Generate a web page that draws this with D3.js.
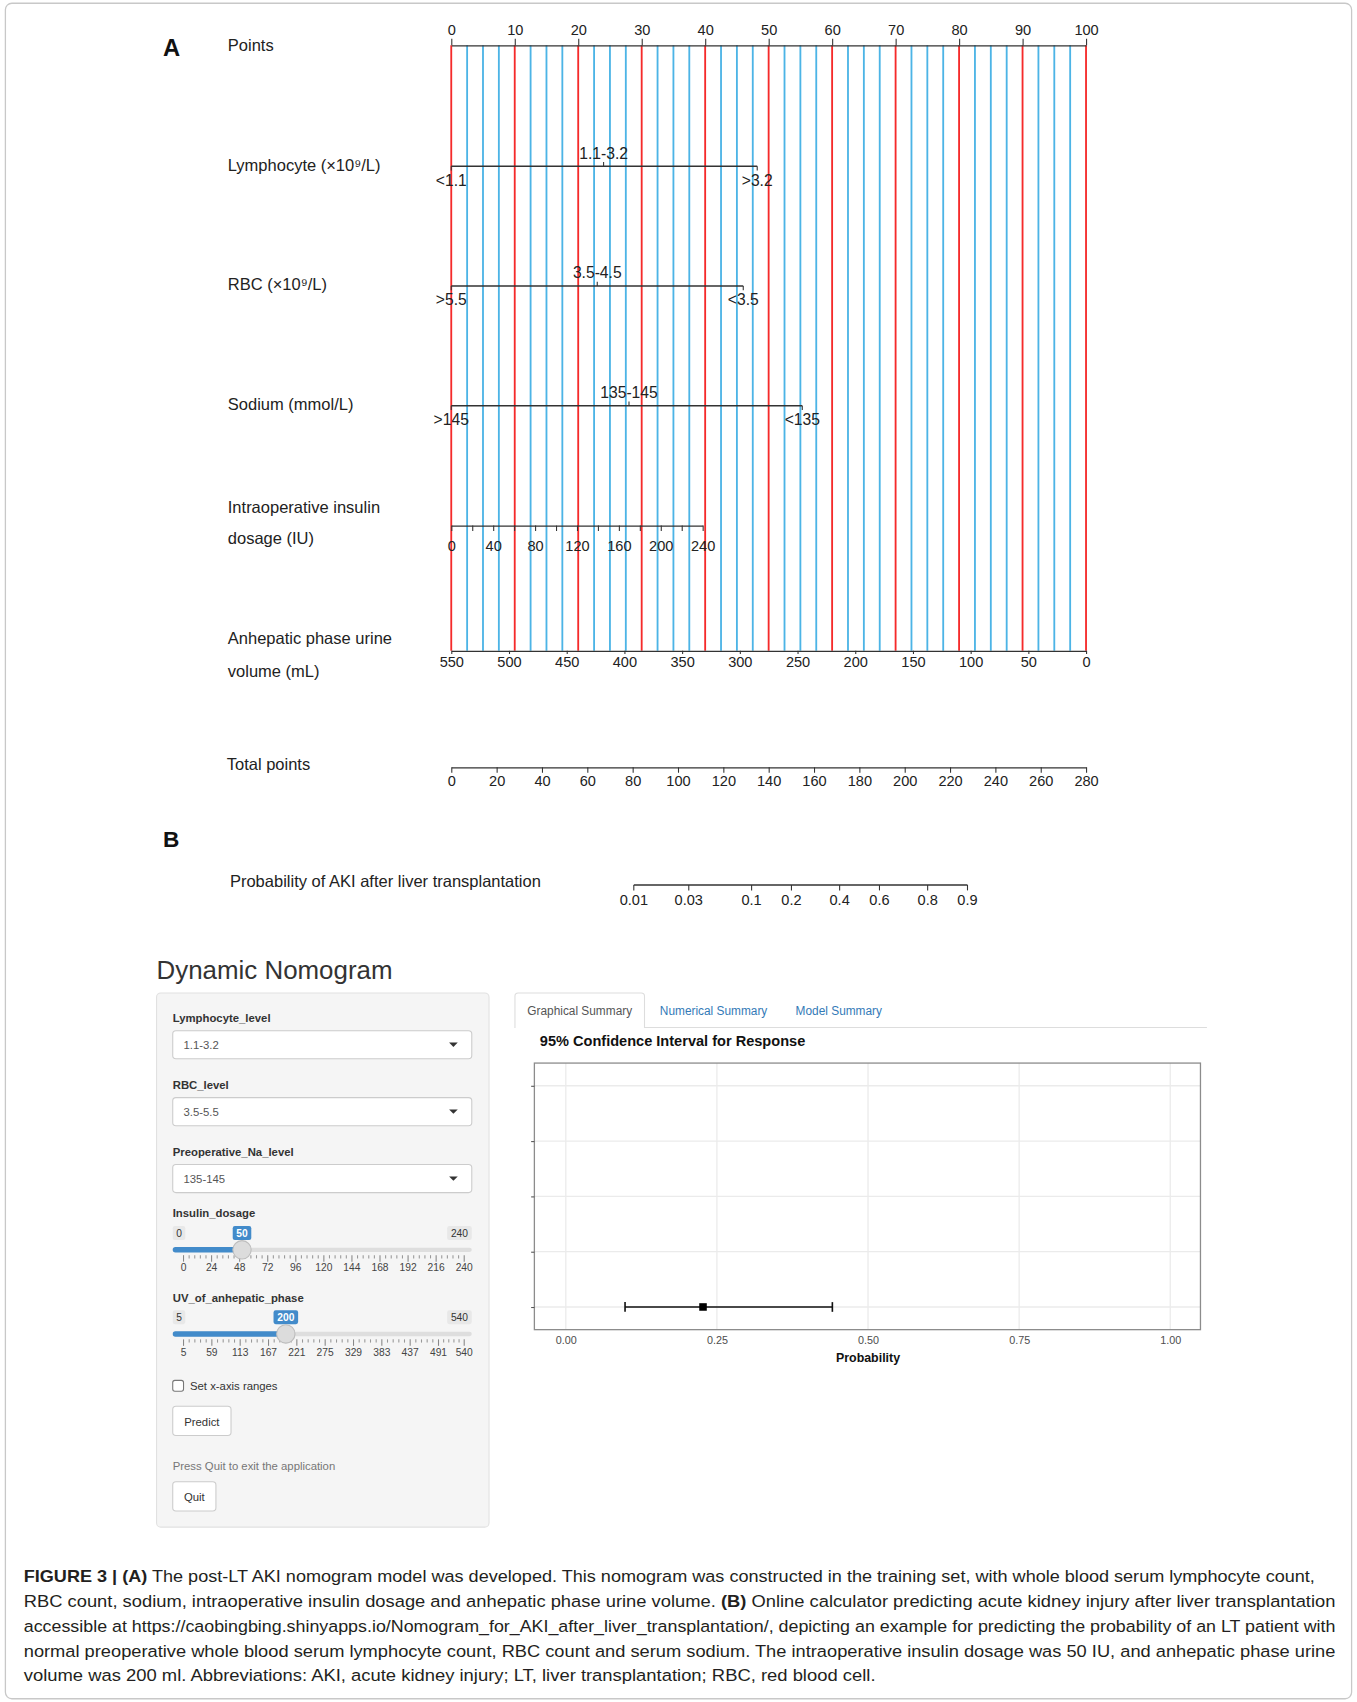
<!DOCTYPE html>
<html>
<head>
<meta charset="utf-8">
<script src="https://cdn.jsdelivr.net/npm/d3@7"></script>
<style>
body { margin: 0; background: #fff; }
svg { display: block; font-family: "Liberation Sans", Arial, sans-serif; }
</style>
</head>
<body>
<div id="chart"></div>
<script>
'use strict';

// ---- data ----
var pointTicks = d3.range(0, 101, 10);
var pointGrid = d3.range(0, 100.01, 2.5);
var lymphLabels = ['<1.1', '1.1-3.2', '>3.2'];
var lymphPoints = [0, 24, 48.2];
var rbcLabels = ['>5.5', '3.5-4.5', '<3.5'];
var rbcPoints = [0, 23, 46];
var sodiumLabels = ['>145', '135-145', '<135'];
var sodiumPoints = [0, 28, 55.3];
var insulinTicks = d3.range(0, 241, 20);
var insulinMaxPoints = 39.6;
var urineTicks = [550, 500, 450, 400, 350, 300, 250, 200, 150, 100, 50, 0];
var totalTicks = d3.range(0, 281, 20);
var probTicks = [0.01, 0.03, 0.1, 0.2, 0.4, 0.6, 0.8, 0.9];
var lpIntercept = 180.1;   // total points where logit = 0
var lpSlope = 21.67;       // total points per logit unit

var selectNames = ['Lymphocyte_level', 'RBC_level', 'Preoperative_Na_level'];
var selectValues = ['1.1-3.2', '3.5-5.5', '135-145'];
var insulinSliderTicks = [0, 24, 48, 72, 96, 120, 144, 168, 192, 216, 240];
var insulinValue = 50;
var uvSliderTicks = [5, 59, 113, 167, 221, 275, 329, 383, 437, 491, 540];
var uvValue = 200;
var tabNames = ['Graphical Summary', 'Numerical Summary', 'Model Summary'];
var ciTicks = [0, 0.25, 0.5, 0.75, 1];
var ciRows = [1, 2, 3, 4, 5];
var ciEstimate = 0.227;
var ciLower = 0.098;
var ciUpper = 0.441;

var W = 1257, H = 1577;
var font = '"Liberation Sans", Arial, sans-serif';
var red = '#f52a2a';
var blue = '#4cb4e6';
var ink = '#222';

var svg = d3.select('#chart').append('svg')
  .attr('width', 1357).attr('height', 1702)
  .attr('viewBox', '0 0 ' + W + ' ' + H)
  .attr('preserveAspectRatio', 'none');

// frame round the figure
svg.append('rect').attr('x', 5).attr('y', 3).attr('width', 1247).attr('height', 1571)
  .attr('rx', 6).attr('fill', 'none').attr('stroke', '#c8c8c8').attr('stroke-width', 1.2);

// ---- nomogram (A) ----
var xPts = d3.scaleLinear().domain([0, 100]).range([418, 1006]);
var xTot = d3.scaleLinear().domain([0, 280]).range([418, 1006]);
var xIns = d3.scaleLinear().domain([0, 240]).range([xPts(0), xPts(insulinMaxPoints)]);
var xUrine = d3.scaleLinear().domain([550, 0]).range([xPts(0), xPts(100)]);
var logit = function (p) { return Math.log(p / (1 - p)); };
var xProb = function (p) { return xTot(lpIntercept + lpSlope * logit(p)); };

var yPoints = 42, yLymph = 154, yRbc = 265, ySodium = 376, yInsulin = 487, yUrine = 603, yTotal = 711, yProb = 820;

svg.append('text').attr('x', 151).attr('y', 52).attr('font-size', 22).attr('font-weight', 'bold').attr('fill', '#111').text('A');
svg.append('text').attr('x', 151).attr('y', 785).attr('font-size', 21).attr('font-weight', 'bold').attr('fill', '#111').text('B');

// vertical reference lines
svg.append('g').selectAll('line').data(pointGrid).join('line')
  .attr('x1', function (d) { return xPts(d); }).attr('x2', function (d) { return xPts(d); })
  .attr('y1', yPoints).attr('y2', yUrine)
  .attr('stroke', function (d) { return d % 10 === 0 ? red : blue; })
  .attr('stroke-width', 1.7);

function styleAxis(g, fs) {
  g.attr('font-family', font).attr('font-size', fs);
  g.select('.domain').attr('stroke', '#333').attr('stroke-width', 1.3);
  g.selectAll('.tick line').attr('stroke', '#333').attr('stroke-width', 1);
  g.selectAll('.tick text').attr('fill', ink);
}

// Points axis
var gPts = svg.append('g').attr('transform', 'translate(0,' + yPoints + ')');
gPts.call(d3.axisTop(xPts).tickValues(pointGrid).tickSize(3).tickSizeOuter(0).tickFormat(''));
gPts.call(d3.axisTop(xPts).tickValues(pointTicks).tickSize(6).tickSizeOuter(0).tickPadding(4));
styleAxis(gPts, 13.5);

// categorical axes
function catAxis(y, labels, pts) {
  var g = svg.append('g');
  g.append('line').attr('x1', xPts(0)).attr('x2', xPts(d3.max(pts)))
    .attr('y1', y).attr('y2', y).attr('stroke', '#333').attr('stroke-width', 1.3);
  labels.forEach(function (lab, i) {
    var x = xPts(pts[i]);
    var up = i === 1;
    g.append('line').attr('x1', x).attr('x2', x).attr('y1', y).attr('y2', up ? y - 4 : y + 4)
      .attr('stroke', '#333').attr('stroke-width', 1);
    g.append('text').attr('x', x).attr('y', up ? y - 7 : y + 18)
      .attr('text-anchor', 'middle').attr('font-size', 14.5).attr('fill', ink).text(lab);
  });
}
catAxis(yLymph, lymphLabels, lymphPoints);
catAxis(yRbc, rbcLabels, rbcPoints);
catAxis(ySodium, sodiumLabels, sodiumPoints);

// Insulin axis
var gIns = svg.append('g').attr('transform', 'translate(0,' + yInsulin + ')');
gIns.call(d3.axisBottom(xIns).tickValues(insulinTicks).tickSize(5).tickSizeOuter(0).tickPadding(9)
  .tickFormat(function (d) { return d % 40 === 0 ? d : ''; }));
styleAxis(gIns, 13.5);

// Urine axis
var gUr = svg.append('g').attr('transform', 'translate(0,' + yUrine + ')');
gUr.call(d3.axisBottom(xUrine).tickValues(urineTicks).tickSize(3).tickSizeOuter(0).tickPadding(2));
styleAxis(gUr, 13.5);

// Total points axis
var gTot = svg.append('g').attr('transform', 'translate(0,' + yTotal + ')');
gTot.call(d3.axisBottom(xTot).tickValues(d3.range(0, 281, 5)).tickSize(3).tickSizeOuter(0).tickFormat(''));
gTot.call(d3.axisBottom(xTot).tickValues(totalTicks).tickSize(5).tickSizeOuter(0).tickPadding(3));
styleAxis(gTot, 13.5);

// Probability axis
var gProb = svg.append('g');
gProb.append('line').attr('x1', xProb(probTicks[0])).attr('x2', xProb(probTicks[probTicks.length - 1]))
  .attr('y1', yProb).attr('y2', yProb).attr('stroke', '#333').attr('stroke-width', 1.3);
gProb.selectAll('line.tk').data(probTicks).join('line').attr('class', 'tk')
  .attr('x1', xProb).attr('x2', xProb).attr('y1', yProb).attr('y2', yProb + 5)
  .attr('stroke', '#333');
gProb.selectAll('text').data(probTicks).join('text')
  .attr('x', xProb).attr('y', yProb + 19).attr('text-anchor', 'middle')
  .attr('font-size', 13.5).attr('fill', ink).text(function (d) { return d; });

// row labels
var rowText = [
  ['Points', 47, 211], ['Lymphocyte (×10⁹/L)', 158, 211], ['RBC (×10⁹/L)', 269, 211],
  ['Sodium (mmol/L)', 380, 211], ['Intraoperative insulin', 475, 211], ['dosage (IU)', 504, 211],
  ['Anhepatic phase urine', 597, 211], ['volume (mL)', 627, 211], ['Total points', 713, 210],
  ['Probability of AKI after liver transplantation', 822, 213]
];
svg.append('g').selectAll('text').data(rowText).join('text')
  .attr('x', function (d) { return d[2]; }).attr('y', function (d) { return d[1]; })
  .attr('font-size', 15.3).attr('fill', ink).text(function (d) { return d[0]; });

// ---- Shiny calculator (B) ----
svg.append('text').attr('x', 145).attr('y', 907).attr('font-size', 24).attr('fill', '#333').text('Dynamic Nomogram');

var well = svg.append('g');
well.append('rect').attr('x', 145).attr('y', 920).attr('width', 308).attr('height', 495).attr('rx', 4)
  .attr('fill', '#f5f5f5').attr('stroke', '#e1e1e1');

var selY = [943, 1005, 1067];
selectNames.forEach(function (name, i) {
  var y = selY[i];
  well.append('text').attr('x', 160).attr('y', y + 4).attr('font-size', 10.5).attr('font-weight', 'bold')
    .attr('fill', '#333').text(name);
  well.append('rect').attr('x', 160).attr('y', y + 12).attr('width', 277).attr('height', 26).attr('rx', 3)
    .attr('fill', '#fff').attr('stroke', '#ccc');
  well.append('text').attr('x', 170).attr('y', y + 29).attr('font-size', 10.5).attr('fill', '#555').text(selectValues[i]);
  well.append('path').attr('d', 'M416,' + (y + 23) + 'l8,0l-4,4z').attr('fill', '#333');
});

function slider(yTop, name, ticks, value) {
  var sx = d3.scaleLinear().domain([ticks[0], ticks[ticks.length - 1]]).range([170, 430]);
  var g = svg.append('g');
  g.append('text').attr('x', 160).attr('y', yTop + 4).attr('font-size', 10.5).attr('font-weight', 'bold')
    .attr('fill', '#333').text(name);
  var lab = [[ticks[0], '#e8e8e8', '#333'], [ticks[ticks.length - 1], '#e8e8e8', '#333'], [value, '#428bca', '#fff']];
  lab.forEach(function (l) {
    var txt = String(l[0]);
    var w = txt.length * 5.6 + 6;
    var cx = l[2] === '#fff' ? sx(l[0]) : (l[0] === ticks[0] ? 160 + w / 2 : 437 - w / 2);
    g.append('rect').attr('x', cx - w / 2).attr('y', yTop + 12).attr('width', w).attr('height', 13).attr('rx', 2).attr('fill', l[1]);
    g.append('text').attr('x', cx).attr('y', yTop + 22).attr('text-anchor', 'middle').attr('font-size', 9.5)
      .attr('fill', l[2]).attr('font-weight', l[2] === '#fff' ? 'bold' : 'normal').text(txt);
  });
  var ty = yTop + 34;
  g.append('rect').attr('x', 160).attr('y', ty - 2).attr('width', 277).attr('height', 4).attr('rx', 2).attr('fill', '#dedede');
  g.append('rect').attr('x', 160).attr('y', ty - 2.5).attr('width', sx(value) - 160).attr('height', 5).attr('rx', 2.5).attr('fill', '#428bca');
  // grid
  var minor = [];
  for (var i = 0; i < ticks.length - 1; i++) {
    for (var k = 1; k < 5; k++) minor.push(ticks[i] + (ticks[i + 1] - ticks[i]) * k / 5);
  }
  g.selectAll('line.mn').data(minor).join('line').attr('class', 'mn')
    .attr('x1', sx).attr('x2', sx).attr('y1', ty + 5).attr('y2', ty + 8).attr('stroke', '#999');
  g.selectAll('line.mj').data(ticks).join('line').attr('class', 'mj')
    .attr('x1', sx).attr('x2', sx).attr('y1', ty + 5).attr('y2', ty + 11).attr('stroke', '#888');
  g.selectAll('text.gl').data(ticks).join('text').attr('class', 'gl')
    .attr('x', sx).attr('y', ty + 20).attr('text-anchor', 'middle').attr('font-size', 9.5)
    .attr('fill', '#444').text(function (d) { return d; });
  g.append('circle').attr('cx', sx(value)).attr('cy', ty).attr('r', 8.5)
    .attr('fill', '#dcdcdc').attr('stroke', '#bdbdbd');
}
slider(1124, 'Insulin_dosage', insulinSliderTicks, insulinValue);
slider(1202, 'UV_of_anhepatic_phase', uvSliderTicks, uvValue);

well.append('rect').attr('x', 160).attr('y', 1279).attr('width', 10).attr('height', 10).attr('rx', 2)
  .attr('fill', '#fff').attr('stroke', '#777');
well.append('text').attr('x', 176).attr('y', 1288).attr('font-size', 10.5).attr('fill', '#333').text('Set x-axis ranges');
well.append('rect').attr('x', 160).attr('y', 1303).attr('width', 54).attr('height', 27).attr('rx', 3)
  .attr('fill', '#fff').attr('stroke', '#ccc');
well.append('text').attr('x', 187).attr('y', 1321).attr('text-anchor', 'middle').attr('font-size', 10.5).attr('fill', '#333').text('Predict');
well.append('text').attr('x', 160).attr('y', 1362).attr('font-size', 10.5).attr('fill', '#777').text('Press Quit to exit the application');
well.append('rect').attr('x', 160).attr('y', 1373).attr('width', 40).attr('height', 27).attr('rx', 3)
  .attr('fill', '#fff').attr('stroke', '#ccc');
well.append('text').attr('x', 180).attr('y', 1391).attr('text-anchor', 'middle').attr('font-size', 10.5).attr('fill', '#333').text('Quit');

// tabs
var tabs = svg.append('g');
tabs.append('line').attr('x1', 477).attr('x2', 1118).attr('y1', 952).attr('y2', 952).attr('stroke', '#ddd');
tabs.append('path').attr('d', 'M477,952.5V923q0,-3 3,-3H594q3,0 3,3V952.5')
  .attr('fill', '#fff').attr('stroke', '#ddd');
var tabX = [537, 661, 777];
tabNames.forEach(function (t, i) {
  tabs.append('text').attr('x', tabX[i]).attr('y', 940).attr('text-anchor', 'middle').attr('font-size', 11)
    .attr('fill', i === 0 ? '#555' : '#337ab7').text(t);
});

// confidence interval plot
svg.append('text').attr('x', 500).attr('y', 969).attr('font-size', 13.5).attr('font-weight', 'bold')
  .attr('fill', '#111').text('95% Confidence Interval for Response');
var xCI = d3.scaleLinear().domain([-0.052, 1.05]).range([495, 1112]);
var yCI = d3.scaleLinear().domain([0.59, 5.41]).range([1232, 985]);
var plot = svg.append('g');
plot.append('rect').attr('x', 495).attr('y', 985).attr('width', 617).attr('height', 247).attr('fill', '#fff');
plot.selectAll('line.gx').data(ciTicks).join('line').attr('class', 'gx')
  .attr('x1', xCI).attr('x2', xCI).attr('y1', 985).attr('y2', 1232).attr('stroke', '#ebebeb').attr('stroke-width', 1.2);
plot.selectAll('line.gy').data(ciRows).join('line').attr('class', 'gy')
  .attr('x1', 495).attr('x2', 1112).attr('y1', yCI).attr('y2', yCI).attr('stroke', '#ebebeb').attr('stroke-width', 1.2);
plot.append('rect').attr('x', 495).attr('y', 985).attr('width', 617).attr('height', 247)
  .attr('fill', 'none').attr('stroke', '#8c8c8c').attr('stroke-width', 1.2);
var gyAxis = plot.append('g').attr('transform', 'translate(495,0)');
gyAxis.call(d3.axisLeft(yCI).tickValues(ciRows).tickSize(3).tickFormat(''));
gyAxis.select('.domain').remove();
gyAxis.selectAll('.tick line').attr('stroke', '#555');
var gxAxis = plot.append('g').attr('transform', 'translate(0,1232)');
gxAxis.call(d3.axisBottom(xCI).tickValues(ciTicks).tickSize(0).tickPadding(6).tickFormat(d3.format('.2f')));
gxAxis.select('.domain').remove();
gxAxis.attr('font-family', font).attr('font-size', 10);
gxAxis.selectAll('text').attr('fill', '#4d4d4d');
plot.append('text').attr('x', xCI(0.5)).attr('y', 1262).attr('text-anchor', 'middle')
  .attr('font-size', 11.5).attr('font-weight', 'bold').attr('fill', '#111').text('Probability');
// estimate and interval
var yPt = yCI(ciRows[0]);
plot.append('line').attr('x1', xCI(ciLower)).attr('x2', xCI(ciUpper)).attr('y1', yPt).attr('y2', yPt)
  .attr('stroke', '#111').attr('stroke-width', 1.5);
[ciLower, ciUpper].forEach(function (v) {
  plot.append('line').attr('x1', xCI(v)).attr('x2', xCI(v)).attr('y1', yPt - 4.5).attr('y2', yPt + 4.5)
    .attr('stroke', '#111').attr('stroke-width', 1.5);
});
plot.append('rect').attr('x', xCI(ciEstimate) - 3.5).attr('y', yPt - 3.5).attr('width', 7).attr('height', 7).attr('fill', '#000');

// ---- caption ----
var caption = [
  [[['FIGURE 3 | (A)', true], [' The post-LT AKI nomogram model was developed. This nomogram was constructed in the training set, with whole blood serum lymphocyte count,', false]], 1196],
  [[['RBC count, sodium, intraoperative insulin dosage and anhepatic phase urine volume. ', false], ['(B)', true], [' Online calculator predicting acute kidney injury after liver transplantation', false]], 1215],
  [[['accessible at https://caobingbing.shinyapps.io/Nomogram_for_AKI_after_liver_transplantation/, depicting an example for predicting the probability of an LT patient with', false]], 1215],
  [[['normal preoperative whole blood serum lymphocyte count, RBC count and serum sodium. The intraoperative insulin dosage was 50 IU, and anhepatic phase urine', false]], 1215],
  [[['volume was 200 ml. Abbreviations: AKI, acute kidney injury; LT, liver transplantation; RBC, red blood cell.', false]], 789]
];
caption.forEach(function (line, i) {
  var t = svg.append('text').attr('x', 22).attr('y', 1466 + i * 23).attr('font-size', 16).attr('fill', '#231f20')
    .attr('textLength', line[1]).attr('lengthAdjust', 'spacingAndGlyphs');
  line[0].forEach(function (seg) {
    t.append('tspan').attr('font-weight', seg[1] ? 'bold' : 'normal').text(seg[0]);
  });
});
</script>
</body>
</html>
